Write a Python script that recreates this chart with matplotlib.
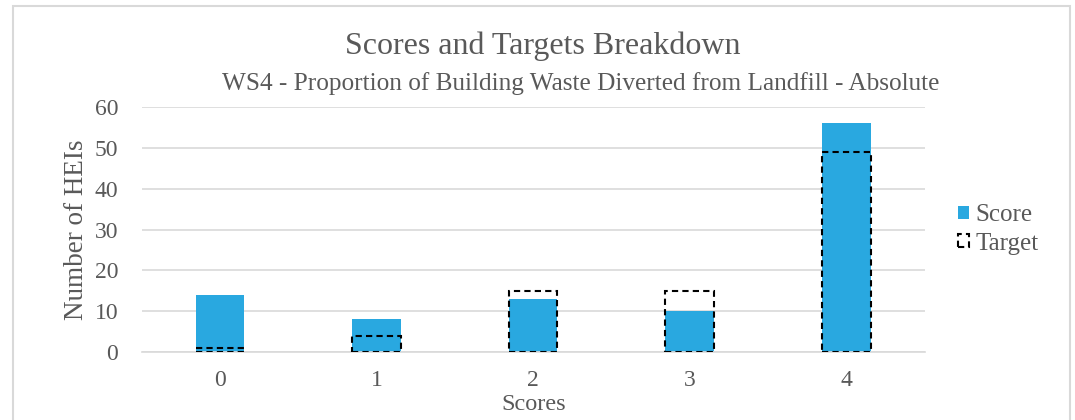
"""Scores and targets breakdown for WS4 - bar chart with dashed target outlines."""

import matplotlib

matplotlib.use("Agg")
import matplotlib.pyplot as plt
from matplotlib.patches import Rectangle

# data
scores = ["0", "1", "2", "3", "4"]
score_counts = [14, 8, 13, 10, 56]
target_counts = [1, 4, 15, 15, 49]
y_ticks = [0, 10, 20, 30, 40, 50, 60]

BLUE = "#29A8E0"
GREY_TEXT = "#595959"
GRID = "#D9D9D9"

plt.rcParams["font.family"] = ["Liberation Serif", "DejaVu Serif"]

fig = plt.figure(figsize=(10.75, 4.2), dpi=100)
ax = fig.add_axes([0.132, 0.162, 0.728, 0.583])

x = list(range(len(scores)))
width = 0.31
ax.bar(x, score_counts, width=width, color=BLUE, zorder=2, label="Score")
ax.bar(x, target_counts, width=width, facecolor="none", edgecolor="black",
       linestyle=(0, (3, 2)), linewidth=1.5, zorder=3, label="Target")

ax.set_xlim(-0.5, len(scores) - 0.5)
ax.set_ylim(0, 60)
ax.set_yticks(y_ticks)
ax.set_xticks(x)
ax.set_xticklabels(scores)
ax.yaxis.grid(True, color=GRID, linewidth=1.2, zorder=0)
ax.set_axisbelow(True)
for side in ["top", "right", "left"]:
    ax.spines[side].set_visible(False)
ax.spines["bottom"].set_color(GRID)
ax.spines["bottom"].set_linewidth(1.2)
ax.tick_params(axis="both", length=0, labelsize=17, labelcolor=GREY_TEXT)
ax.tick_params(axis="x", pad=13)
ax.tick_params(axis="y", pad=17)

ax.set_ylabel("Number of HEIs", fontsize=19.5, color=GREY_TEXT, labelpad=4)
ax.set_xlabel("Scores", fontsize=17.5, color=GREY_TEXT, labelpad=2)

fig.text(0.505, 0.89, "Scores and Targets Breakdown", ha="center", va="center",
         fontsize=23, color=GREY_TEXT)
fig.text(0.54, 0.80, "WS4 - Proportion of Building Waste Diverted from Landfill - Absolute",
         ha="center", va="center", fontsize=18.2, color=GREY_TEXT)

ax.legend(loc="center left", bbox_to_anchor=(1.03, 0.5), frameon=False,
          fontsize=18, labelcolor=GREY_TEXT, handlelength=0.45, handleheight=0.45,
          handletextpad=0.25, labelspacing=0.25, borderaxespad=0)

# light outer border like the chart frame
fig.patches.append(Rectangle((0.012, -0.05), 0.983, 1.036, transform=fig.transFigure,
                             fill=False, edgecolor=GRID, linewidth=1.5))

fig.savefig("out.png", dpi=100)
plt.close(fig)
